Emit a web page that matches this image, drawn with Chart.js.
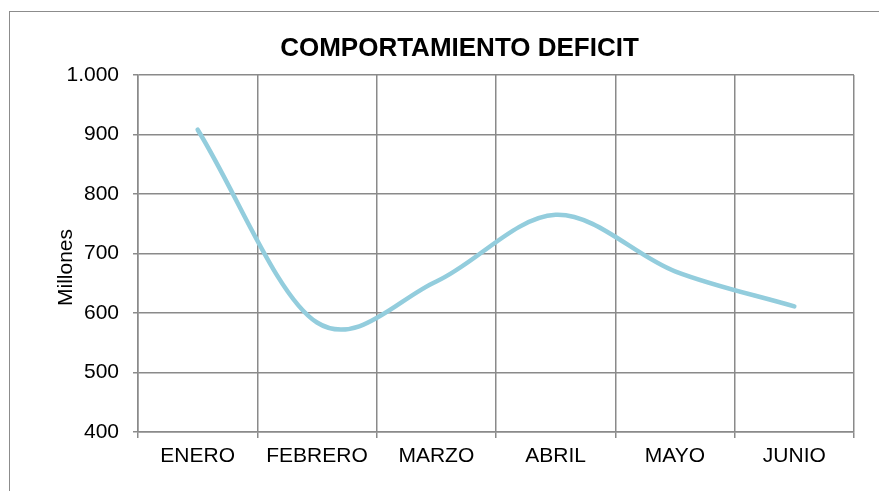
<!DOCTYPE html>
<html lang="es">
<head>
  <meta charset="UTF-8">
  <title>Comportamiento deficit</title>
  <script src="https://cdn.jsdelivr.net/npm/chart.js"></script>
  <style>
    body { margin: 0; background: #fff; overflow: hidden; }
    #marco { position: absolute; left: 9px; top: 11px; width: 1000px; height: 1000px; border: 1px solid #8c8c8c; }
    #grafico { position: absolute; left: 0; top: 0; }
  </style>
</head>
<body>
  <div id="marco"></div>
  <canvas id="grafico" width="879" height="491"></canvas>

  <script>
    const titulo = "COMPORTAMIENTO DEFICIT";
    const meses = ["ENERO", "FEBRERO", "MARZO", "ABRIL", "MAYO", "JUNIO"];
    const deficit = [908, 584, 653, 765, 670, 611];
    const ejeY = [400, 1000, 100]; // min, max, paso
    const tituloEje = "Millones";

    const fuente = '"Liberation Sans", Arial, sans-serif';
    const gris = "#8a8a8a";

    // titulos dibujados a mano para colocarlos como en Excel
    const titulos = {
      id: "titulos",
      afterDraw(chart) {
        const ctx = chart.ctx;
        const area = chart.chartArea;
        ctx.save();
        ctx.fillStyle = "#000";
        ctx.textAlign = "center";
        ctx.font = "bold 26px " + fuente;
        ctx.textBaseline = "alphabetic";
        ctx.fillText(titulo, chart.width / 2 + 20, 56);

        ctx.font = "21px " + fuente;
        ctx.textBaseline = "middle";
        ctx.translate(66, (area.top + area.bottom) / 2 + 14);
        ctx.rotate(-Math.PI / 2);
        ctx.fillText(tituloEje, 0, 0);
        ctx.restore();
      }
    };

    // linea suavizada al estilo Excel (tangente = (sig - ant) / 6)
    const suavizado = {
      id: "suavizado",
      beforeDatasetDraw(chart, args) {
        const meta = args.meta;
        meta.dataset.updateControlPoints(chart.chartArea, "x");
        const pts = meta.data;
        const n = pts.length;
        for (let i = 0; i < n; i++) {
          const ant = pts[Math.max(i - 1, 0)];
          const sig = pts[Math.min(i + 1, n - 1)];
          const k = (i === 0 || i === n - 1) ? 1 / 3 : 1 / 6;
          const dx = (sig.x - ant.x) * k, dy = (sig.y - ant.y) * k;
          pts[i].cp1x = pts[i].x - dx; pts[i].cp1y = pts[i].y - dy;
          pts[i].cp2x = pts[i].x + dx; pts[i].cp2y = pts[i].y + dy;
        }
      }
    };

    new Chart(document.getElementById("grafico"), {
      type: "line",
      data: {
        labels: meses,
        datasets: [{
          data: deficit,
          borderColor: "#93cddd",
          borderWidth: 4.5,
          borderCapStyle: "round",
          pointRadius: 0,
          tension: 0.4,
          fill: false
        }]
      },
      options: {
        responsive: false,
        devicePixelRatio: 1,
        animation: false,
        layout: { padding: { top: 75, right: 25, bottom: 0, left: 0 } },
        plugins: { legend: { display: false }, tooltip: { enabled: false } },
        scales: {
          x: {
            offset: true,
            grid: { offset: true, color: gris, lineWidth: 1.5, tickLength: 6 },
            border: { color: gris, width: 1.5 },
            ticks: { color: "#000", font: { family: fuente, size: 21 }, padding: 6, maxRotation: 0 },
            afterFit(s) { s.height = 59; }
          },
          y: {
            min: ejeY[0],
            max: ejeY[1],
            grid: { color: gris, lineWidth: 1.5, tickLength: 5 },
            border: { color: gris, width: 1.5 },
            ticks: {
              stepSize: ejeY[2],
              color: "#000",
              font: { family: fuente, size: 21 },
              padding: 14,
              callback: v => String(v).replace(/\B(?=(\d{3})+(?!\d))/g, ".")
            },
            afterFit(s) { s.width = 138; }
          }
        }
      },
      plugins: [titulos, suavizado]
    });
  </script>
</body>
</html>
